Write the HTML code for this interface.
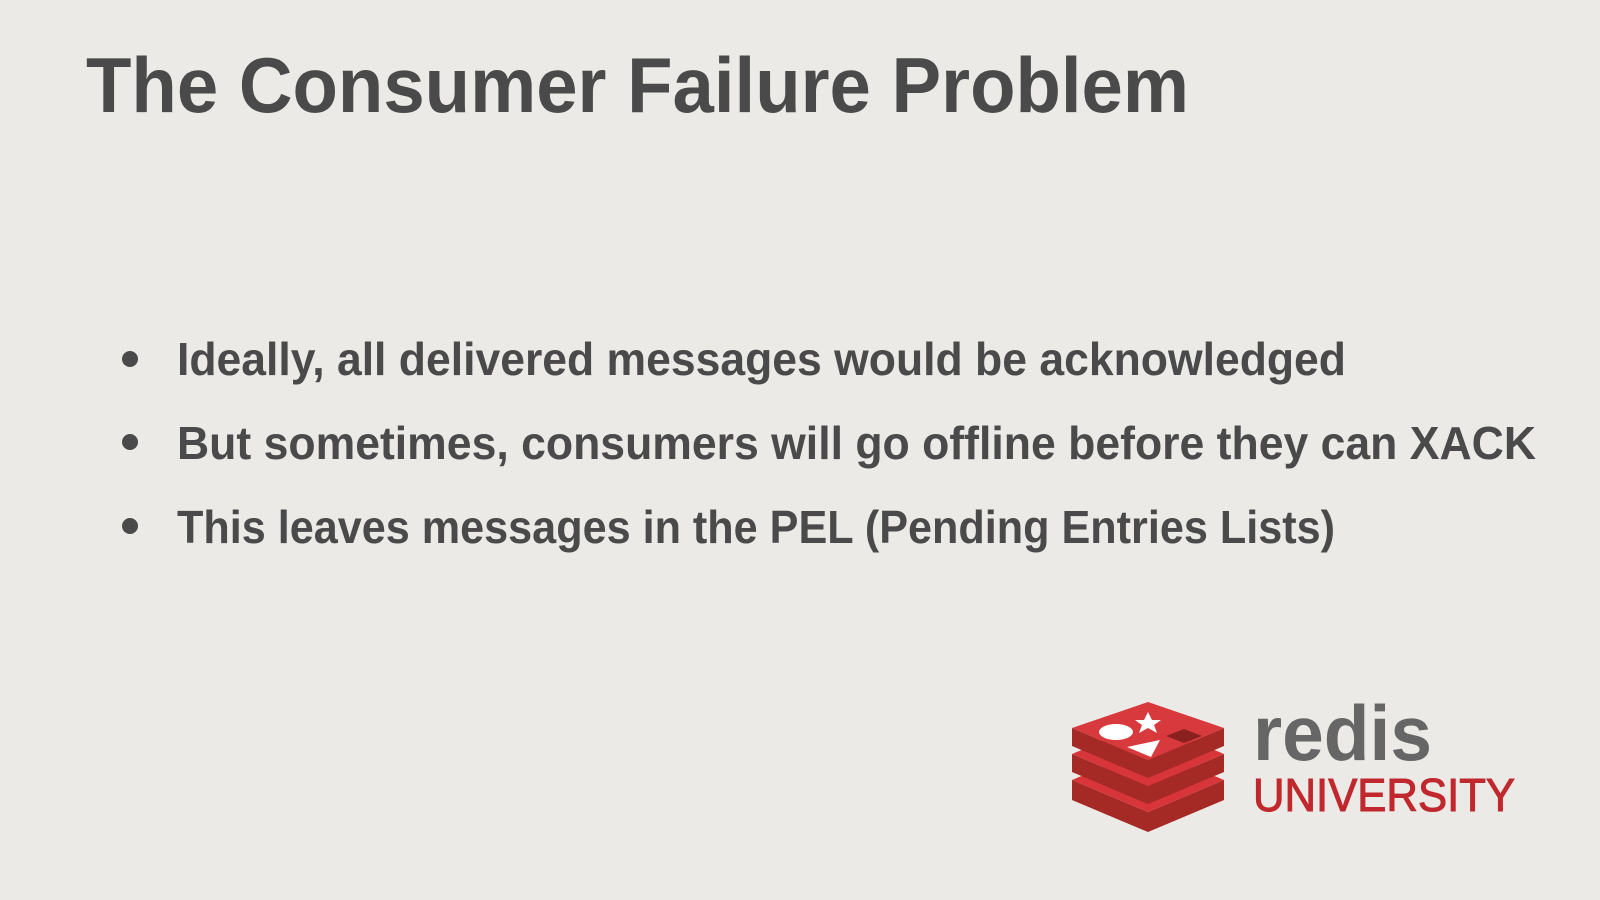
<!DOCTYPE html>
<html><head><meta charset="utf-8"><style>
html,body{margin:0;padding:0;background:#ebeae6;}
svg{display:block;}
</style></head><body>
<svg width="1600" height="900" viewBox="0 0 1600 900" font-family="'Liberation Sans', sans-serif">
<rect width="1600" height="900" fill="#ebeae6"/>
<text x="86" y="112" font-size="78" font-weight="bold" fill="#4a4a4a" textLength="1103" lengthAdjust="spacingAndGlyphs">The Consumer Failure Problem</text>
<g fill="#4a4a4a" font-weight="bold" font-size="46">
<circle cx="130" cy="359" r="8"/>
<text x="177" y="375" textLength="1169" lengthAdjust="spacingAndGlyphs">Ideally, all delivered messages would be acknowledged</text>
<circle cx="130" cy="442" r="8"/>
<text x="177" y="459" textLength="1359" lengthAdjust="spacingAndGlyphs">But sometimes, consumers will go offline before they can XACK</text>
<circle cx="130" cy="526" r="8"/>
<text x="177" y="543" textLength="1158" lengthAdjust="spacingAndGlyphs">This leaves messages in the PEL (Pending Entries Lists)</text>
</g>
<g>
<g>
<path d="M1072 800 L1148 832 L1224 800 L1224 780 L1148 812 L1072 780 Z" fill="#a52a26"/>
<path d="M1072 780 L1148 748 L1224 780 L1148 812 Z" fill="#d8353a"/>
<path d="M1072 772 L1148 804 L1224 772 L1224 754 L1148 786 L1072 754 Z" fill="#a52a26"/>
<path d="M1072 754 L1148 722 L1224 754 L1148 786 Z" fill="#d8353a"/>
<path d="M1072 746 L1148 778 L1224 746 L1224 728 L1148 760 L1072 728 Z" fill="#a52a26"/>
<path d="M1072 728 L1148 702 L1224 728 L1148 760 Z" fill="#d8393d"/>
<ellipse cx="1116" cy="732" rx="17" ry="8" fill="#fff"/>
<polygon points="1148,712 1152,720 1161,720 1154,725 1157,733 1148,728 1139,733 1142,725 1135,720 1144,720" fill="#fff"/>
<polygon points="1127,747 1160,740 1151,757" fill="#fff"/>
<polygon points="1166,736 1184,729 1202,736 1184,743" fill="#8a2020"/>
</g>
<text x="1253" y="760" font-size="78" font-weight="bold" fill="#666" textLength="179" lengthAdjust="spacingAndGlyphs">redis</text>
<text x="1253" y="811" font-size="46" fill="#c0282d" stroke="#c0282d" stroke-width="1" textLength="262" lengthAdjust="spacingAndGlyphs">UNIVERSITY</text>
</g>
</svg>
</body></html>
